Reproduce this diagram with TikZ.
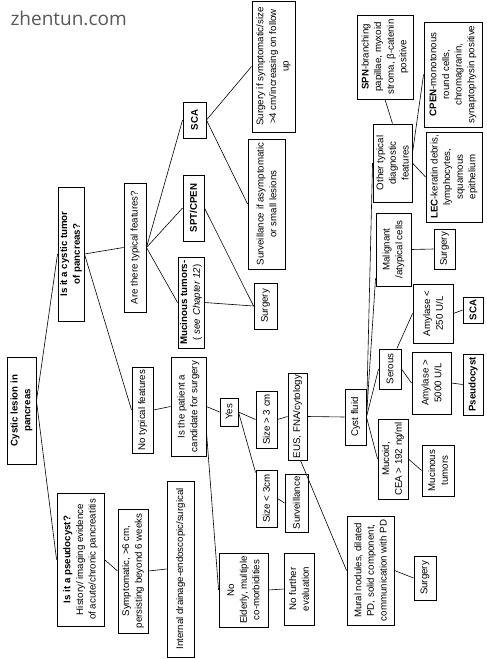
\documentclass[tikz,border=0pt]{standalone}
\usepackage{fontspec}
\setmainfont{Liberation Sans}
\newfontfamily\wmfont{Open Sans}
\usetikzlibrary{calc}
\tikzset{
  box/.style={draw=black, line width=0.9pt, rotate=90, inner sep=1pt, align=center,
    font=\fontsize{9.7}{12.6}\selectfont, text=black},
  link/.style={draw=black, line width=0.6pt},
}
\newcommand\drawbox[6]{%
  \node[box, minimum width={#5-#3}, minimum height={#4-#2}] (#1) at ({(#2+#4)/2},{(#3+#5)/2}) {#6};}
\begin{document}
\begin{tikzpicture}[x=1pt,y=-1pt]
\fill[white] (0,0) rectangle (487,659);
\useasboundingbox (0,0) rectangle (487,659);
\node[anchor=base west, font=\wmfont\fontsize{19}{22}\selectfont, text=black!65] (wm) at (7,25) {zhentun.com};
\drawbox{cl}{7}{357}{36}{464}{\textbf{Cystic lesion in}\\\textbf{pancreas}}
\drawbox{ct}{58}{187}{84}{321}{\textbf{Is it a cystic tumor}\\\textbf{of pancreas?}}
\drawbox{ps}{57}{493}{104}{626}{\textbf{Is it a pseudocyst?}\\History/ imaging evidence\\of acute/chronic pancreatitis}
\drawbox{sym}{118}{509}{148}{633}{Symptomatic, >6 cm,\\persisting beyond 6 weeks}
\drawbox{int}{167}{481}{194}{657}{Internal drainage-endoscopic/surgical}
\drawbox{nt}{132}{367}{153}{453}{No typical features}
\drawbox{at}{124}{183}{146}{312}{Are there typical features?}
\drawbox{sca1}{183}{102}{206}{138}{\textbf{SCA}}
\drawbox{spt}{183}{175}{204}{241}{\textbf{SPT/CPEN}}
\drawbox{muc}{178}{257}{204}{348}{\textbf{Mucinous tumors-}\\( \textit{see Chapter 12})}
\drawbox{sif}{252}{1}{295}{132}{Surgery if symptomatic/size\\>4 cm/increasing on follow\\up}
\drawbox{sa}{248}{139}{285}{269}{Surveillance if asymptomatic\\or small lesions}
\drawbox{surg1}{254}{283}{277}{329}{Surgery}
\drawbox{pat}{171}{357}{206}{456}{Is the patient a\\candidate for surgery}
\drawbox{yes}{220}{398}{238}{426}{Yes}
\drawbox{no}{219}{553}{268}{627}{No\\Elderly, multiple\\co-morbidities}
\drawbox{nfe}{284}{553}{314}{625}{No further\\evaluation}
\drawbox{sz3}{256}{391}{277}{448}{Size > 3 cm}
\drawbox{szl}{256}{470}{277}{527}{Size < 3cm}
\drawbox{surv}{285}{474}{308}{532}{Surveillance}
\drawbox{eus}{288}{373}{307}{460}{EUS, FNA/cytology}
\drawbox{cf}{345}{389}{366}{445}{Cyst fluid}
\drawbox{mural}{347}{516}{394}{625}{Mural nodules, dilated\\PD, solid component,\\communication with PD}
\drawbox{surg3}{414}{556}{436}{600}{Surgery}
\drawbox{ser}{379}{349}{401}{389}{Serous}
\drawbox{mucoid}{378}{419}{408}{499}{Mucoid,\\CEA > 192 ng/ml}
\drawbox{mt}{422}{445}{454}{496}{Mucinous\\tumors}
\drawbox{a5000}{412}{352}{451}{414}{Amylase >\\5000 U/L}
\drawbox{pc}{463}{354}{483}{415}{\textbf{Pseudocyst}}
\drawbox{a250}{413}{284}{453}{343}{Amylase <\\250 U/L}
\drawbox{sca2}{463}{297}{483}{323}{\textbf{SCA}}
\drawbox{mal}{376}{213}{411}{286}{Malignant\\/atypical cells}
\drawbox{surg2}{434}{229}{455}{269}{Surgery}
\drawbox{oth}{373}{124}{412}{202}{Other typical\\diagnostic\\features}
\drawbox{spn}{357}{15}{413}{99}{\textbf{SPN}-branching\\papillae, myxoid\\stroma, β-catenin\\positive}
\drawbox{cpen}{424}{22}{482}{127}{\textbf{CPEN}-monotonous\\round cells,\\chromagranin,\\synaptophysin positive}
\drawbox{lec}{426}{132}{482}{222}{\textbf{LEC}-keratin debris,\\lymphocytes,\\squamous\\epithelium}
% connectors
\coordinate (clout) at ($(cl.south)!0.18!(cl.south east)$);
\draw[link] (clout) -- (ct.north);
\draw[link] (clout) -- (ps.north);
\draw[link] (ps.south) -- (sym.north);
\draw[link] (sym.south) -- (int.north);
\draw[link] (ct.south) -- (at.north);
\draw[link] (ct.south) -- (nt.north);
\draw[link] (at.south) -- (sca1.north);
\draw[link] (at.south) -- (spt.north);
\draw[link] (at.south) -- (muc.north);
\draw[link] (sca1.south) -- (sif.north);
\draw[link] (sca1.south) -- (sa.north);
\draw[link] (spt.south) -- (surg1.north);
\draw[link] (muc.south) -- (surg1.north);
\draw[link] (nt.south) -- (pat.north);
\draw[link] (pat.south) -- (yes.north);
\draw[link] ($(pat.south)!0.5!(pat.south west)$) -- (no.north);
\draw[link] (no.south) -- (nfe.north);
\draw[link] (yes.south) -- (sz3.north);
\draw[link] (yes.south) -- ($(szl.north)!0.9!(szl.north east)$);
\draw[link] (szl.south) -- (surv.north);
\draw[link] (sz3.south) -- (eus.north);
\draw[link] (eus.south) -- (cf.north);
\draw[link] ($(eus.south west)!0.35!(eus.north west)$) -- (mural.north);
\draw[link] (mural.south) -- (surg3.north);
\draw[link] (cf.south) -- (oth.north);
\draw[link] (cf.south) -- ($(mal.north)!0.78!(mal.north west)$);
\draw[link] (cf.south) -- (ser.north);
\draw[link] (cf.south) -- (mucoid.north);
\draw[link] ($(ser.south east)!0.2!(ser.north east)$) -- (a250.north);
\draw[link] (ser.south) -- (a5000.north);
\draw[link] (a5000.south) -- (pc.north);
\draw[link] (a250.south) -- (sca2.north);
\draw[link] (mucoid.south) -- (mt.north);
\draw[link] (mal.south) -- (surg2.north);
\draw[link] (oth.east) -- (spn.west);
\draw[link] ($(oth.south)!0.25!(oth.south east)$) -- (cpen.north);
\draw[link] (oth.south) -- (lec.north);
\end{tikzpicture}
\end{document}
